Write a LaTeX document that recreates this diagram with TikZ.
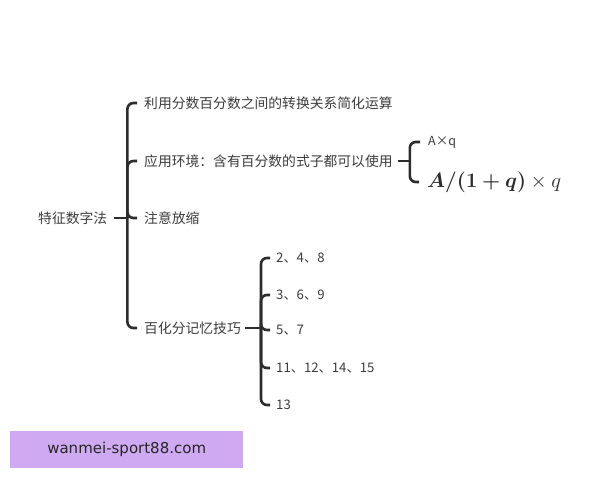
\documentclass[tikz,border=0pt]{standalone}
\usepackage{fontspec}
\usepackage{bm}
\newfontfamily\cjk{Noto Sans CJK SC}
\newfontfamily\wm{DejaVu Sans}
\definecolor{txt}{RGB}{60,60,60}
\definecolor{ln}{RGB}{45,45,45}
\definecolor{wmbox}{RGB}{207,170,242}
\begin{document}
\begin{tikzpicture}[x=1pt,y=-1pt,
  lbl/.style={anchor=west,inner sep=0pt,text=txt,font=\cjk\fontsize{13.8}{16}\selectfont},
  num/.style={anchor=west,inner sep=0pt,text=txt,font=\cjk\fontsize{13.2}{16}\selectfont},
  small/.style={anchor=west,inner sep=0pt,text=txt,font=\cjk\fontsize{12.5}{14}\selectfont},
  br/.style={draw=ln,line width=2.6pt,rounded corners=6pt},
  stub/.style={draw=ln,line width=2.6pt}]
\useasboundingbox (0,0) rectangle (600,480);
\fill[white] (0,0) rectangle (600,480);
% nodes
\node[lbl] (root) at (38,218) {特征数字法};
\node[lbl] (c1) at (144,103) {利用分数百分数之间的转换关系简化运算};
\node[lbl] (c2) at (144,161) {应用环境：含有百分数的式子都可以使用};
\node[lbl] (c3) at (144,218) {注意放缩};
\node[lbl] (c4) at (144,328) {百化分记忆技巧};
\node[small] (f1) at (428,142) {A×q};
\node[anchor=west,inner sep=0pt,text=ln,font=\fontsize{20.5}{24}\selectfont] (f2) at (427,182) {$\bm{A/(1+q)}\times q$};
\node[num] (d1) at (276,258) {2、4、8};
\node[num] (d2) at (276,295) {3、6、9};
\node[num] (d3) at (276,330) {5、7};
\node[num] (d4) at (276,368) {11、12、14、15};
\node[num] (d5) at (276,405) {13};
% junctions
\coordinate (j1) at ([xshift=20pt]root.east);
\coordinate (j2) at ([xshift=17pt]c2.east);
\coordinate (j3) at ([xshift=20pt]c4.east);
% connectors
\draw[stub] ([xshift=7pt]root.east) -- (j1);
\foreach \c in {c1,c2,c3,c4}
  \draw[br] (j1) |- ([xshift=-7pt]\c.west);
\draw[stub] ([xshift=5pt]c2.east) -- (j2);
\foreach \c in {f1,f2}
  \draw[br] (j2) |- ([xshift=-8pt]\c.west);
\draw[stub] ([xshift=4pt]c4.east) -- (j3);
\foreach \c in {d1,d2,d3,d4,d5}
  \draw[br] (j3) |- ([xshift=-6pt]\c.west);
% watermark
\node[fill=wmbox,minimum width=233pt,minimum height=37pt,inner sep=0pt,anchor=north west,
  font=\wm\fontsize{15}{17}\selectfont,text=black!85] (wm) at (10,431) {wanmei-sport88.com};
\end{tikzpicture}
\end{document}
